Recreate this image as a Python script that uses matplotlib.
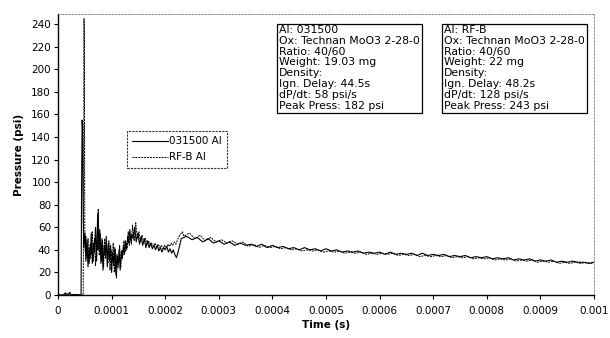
import numpy as np
import matplotlib
matplotlib.use("Agg")
import matplotlib.pyplot as plt
from matplotlib.patches import Rectangle
from matplotlib.ticker import FuncFormatter

# time in microseconds, pressure in psi
time_031500 = [0, 10, 14, 16, 20, 22, 24, 30, 40, 43, 44, 45, 46, 47, 48, 50, 52, 54, 56, 58,
               60, 62, 64, 66, 68, 70, 72, 74, 76, 78, 80, 82, 84, 86, 88, 90, 92, 94, 96, 98,
               100, 102, 104, 106, 108, 110, 112, 114, 116, 118, 120, 122, 124, 126, 128, 130,
               132, 134, 136, 138, 140, 143, 146, 149, 152, 155, 158, 161, 164, 167, 170, 173,
               176, 179, 182, 185, 188, 191, 194, 197, 200, 203, 206, 209, 212, 215, 218, 221,
               224, 227, 230, 240, 250, 260, 270, 280, 290, 300, 310, 320, 330, 340, 350, 360,
               370, 380, 390, 400, 410, 420, 430, 440, 450, 460, 470, 480, 490, 500, 510, 520,
               530, 540, 550, 560, 570, 580, 590, 600, 610, 620, 630, 640, 650, 660, 670, 680,
               690, 700, 710, 720, 730, 740, 750, 760, 770, 780, 790, 800, 810, 820, 830, 840,
               850, 860, 870, 880, 890, 900, 910, 920, 930, 940, 950, 960, 970, 980, 990, 1000]
press_031500 = [0, 0, 2, 0, 1, 2.5, 0, 0.5, 0, 0, 95, 155, 148, 70, 42, 55, 30, 48, 25, 42,
                32, 55, 28, 46, 38, 60, 30, 72, 40, 58, 28, 50, 22, 44, 35, 52, 25, 46, 30, 44,
                20, 38, 26, 42, 18, 36, 24, 40, 22, 38, 32, 44, 36, 48, 40, 52,
                46, 58, 48, 54, 50, 60, 47, 55, 45, 52, 44, 50, 42, 48, 42, 46,
                41, 44, 40, 44, 39, 42, 38, 42, 40, 43, 38, 41, 37, 40, 36, 33,
                38, 44, 50, 52, 49, 51, 47, 50, 46, 48, 45, 47, 44, 46, 44, 45,
                43, 45, 42, 44, 42, 43, 41, 42, 40, 42, 40, 41, 39, 41, 39, 40,
                38, 39, 38, 39, 37, 38, 37, 38, 36, 38, 36, 37, 36, 37, 35, 37,
                35, 36, 35, 36, 34, 35, 34, 35, 33, 34, 33, 34, 32, 33, 32, 33,
                31, 32, 31, 32, 30, 31, 30, 31, 29, 30, 29, 30, 29, 29, 28, 29]

time_rfb = [0, 12, 18, 26, 34, 42, 47, 48, 48.5, 49, 49.5, 50, 51, 52, 54, 56, 58, 60, 62, 64,
            66, 68, 70, 72, 74, 75, 77, 79, 81, 83, 85, 87, 89, 91, 93, 95, 97, 99, 101, 103,
            105, 107, 109, 111, 113, 115, 117, 119, 121, 123, 125, 127, 129, 131, 133, 135,
            137, 139, 142, 145, 148, 151, 154, 157, 160, 163, 166, 169, 172, 175, 178, 181,
            184, 187, 190, 193, 196, 199, 202, 205, 208, 211, 214, 217, 220, 223, 226, 229,
            232, 235, 245, 255, 265, 275, 285, 295, 305, 315, 325, 335, 345, 355, 365, 375,
            385, 395, 405, 415, 425, 435, 445, 455, 465, 475, 485, 495, 505, 515, 525, 535,
            545, 555, 565, 575, 585, 595, 605, 615, 625, 635, 645, 655, 665, 675, 685, 695,
            705, 715, 725, 735, 745, 755, 765, 775, 785, 795, 805, 815, 825, 835, 845, 855,
            865, 875, 885, 895, 905, 915, 925, 935, 945, 955, 965, 975, 985, 995, 1000]
press_rfb = [0, 0, 1, 0, 0.5, 0, 0, 120, 245, 235, 140, 60, 38, 52, 33, 50, 28, 45, 36, 56,
             30, 50, 26, 48, 40, 76, 35, 54, 30, 48, 24, 50, 32, 44, 28, 48, 22, 40, 30, 46,
             20, 40, 15, 34, 28, 44, 24, 40, 35, 48, 38, 44, 42, 56, 44, 52,
             45, 62, 48, 64, 50, 56, 47, 53, 46, 50, 45, 48, 44, 46, 43, 46,
             42, 45, 42, 44, 41, 44, 42, 45, 43, 46, 44, 47, 45, 49, 52, 54,
             56, 52, 55, 50, 53, 48, 51, 47, 49, 46, 48, 45, 47, 43, 45, 42,
             44, 42, 43, 41, 42, 40, 41, 39, 40, 39, 40, 38, 39, 38, 39, 37,
             38, 37, 38, 36, 37, 36, 37, 36, 37, 35, 36, 35, 36, 34, 35, 34,
             35, 34, 35, 33, 34, 33, 34, 32, 33, 32, 33, 31, 32, 31, 32, 30,
             31, 30, 31, 29, 30, 29, 30, 28, 29, 28, 29, 28, 29, 28, 29]

# text is cut off at the right edge of each box in the original
info_031500 = ["Al: 031500", "Ox: Technan MoO3 2-28-0", "Ratio: 40/60", "Weight: 19.03 mg",
               "Density:", "Ign. Delay: 44.5s", "dP/dt: 58 psi/s", "Peak Press: 182 psi"]
info_rfb = ["Al: RF-B", "Ox: Technan MoO3 2-28-0", "Ratio: 40/60", "Weight: 22 mg",
            "Density:", "Ign. Delay: 48.2s", "dP/dt: 128 psi/s", "Peak Press: 243 psi"]

plt.rcParams['font.family'] = 'DejaVu Sans'

fig = plt.figure(figsize=(6.10, 3.38), dpi=100)
ax = fig.add_axes([58 / 610, 1 - 295 / 338, 536 / 610, 281 / 338])

ax.plot(np.array(time_031500) * 1e-6, press_031500, color='black', lw=0.8, label='031500 Al')
ax.plot(np.array(time_rfb) * 1e-6, press_rfb, color='black', lw=0.7, ls=(0, (2, 1)), label='RF-B Al')

ax.set_xlim(0, 0.001)
ax.set_ylim(0, 249)
ax.set_xticks(np.arange(0, 0.00101, 0.0001))
ax.set_yticks(np.arange(0, 241, 20))
ax.xaxis.set_major_formatter(FuncFormatter(lambda v, p: '%g' % round(v, 6)))
ax.tick_params(direction='out', length=3, width=0.8, labelsize=7.5, colors='black', pad=2)
ax.tick_params(axis='x', pad=5)

for s in ['top', 'right']:
    ax.spines[s].set_linestyle((0, (2, 2)))
    ax.spines[s].set_color('#777777')
    ax.spines[s].set_linewidth(0.6)
for s in ['left', 'bottom']:
    ax.spines[s].set_linewidth(1.0)

ax.set_xlabel('Time (s)', fontsize=7.5, fontweight='bold', labelpad=3)
ax.set_ylabel('Pressure (psi)', fontsize=7.5, fontweight='bold', labelpad=5)

leg = ax.legend(loc='upper left', bbox_to_anchor=(0.1287, 0.5836), fontsize=7.5,
                frameon=True, fancybox=False, handlelength=3.4, handletextpad=0.1,
                borderpad=0.5, labelspacing=0.6, borderaxespad=0)
leg.get_frame().set_edgecolor('black')
leg.get_frame().set_linestyle((0, (2, 1)))
leg.get_frame().set_linewidth(0.8)

boxes = [(info_031500, 277), (info_rfb, 442)]
for lines, xl in boxes:
    x0 = (xl - 58) / 536
    w = 145 / 536
    y_top = (295 - 24) / 281
    h = (113 - 24) / 281
    rect = Rectangle((x0, y_top - h), w, h, transform=ax.transAxes, fill=True,
                     facecolor='white', edgecolor='black', lw=0.9, zorder=5)
    ax.add_patch(rect)
    ax.text(x0 + 2 / 536, y_top - 1 / 281, '\n'.join(lines), transform=ax.transAxes,
            ha='left', va='top', fontsize=7.8, linespacing=1.1, zorder=6)

fig.savefig('out.png', dpi=100)
